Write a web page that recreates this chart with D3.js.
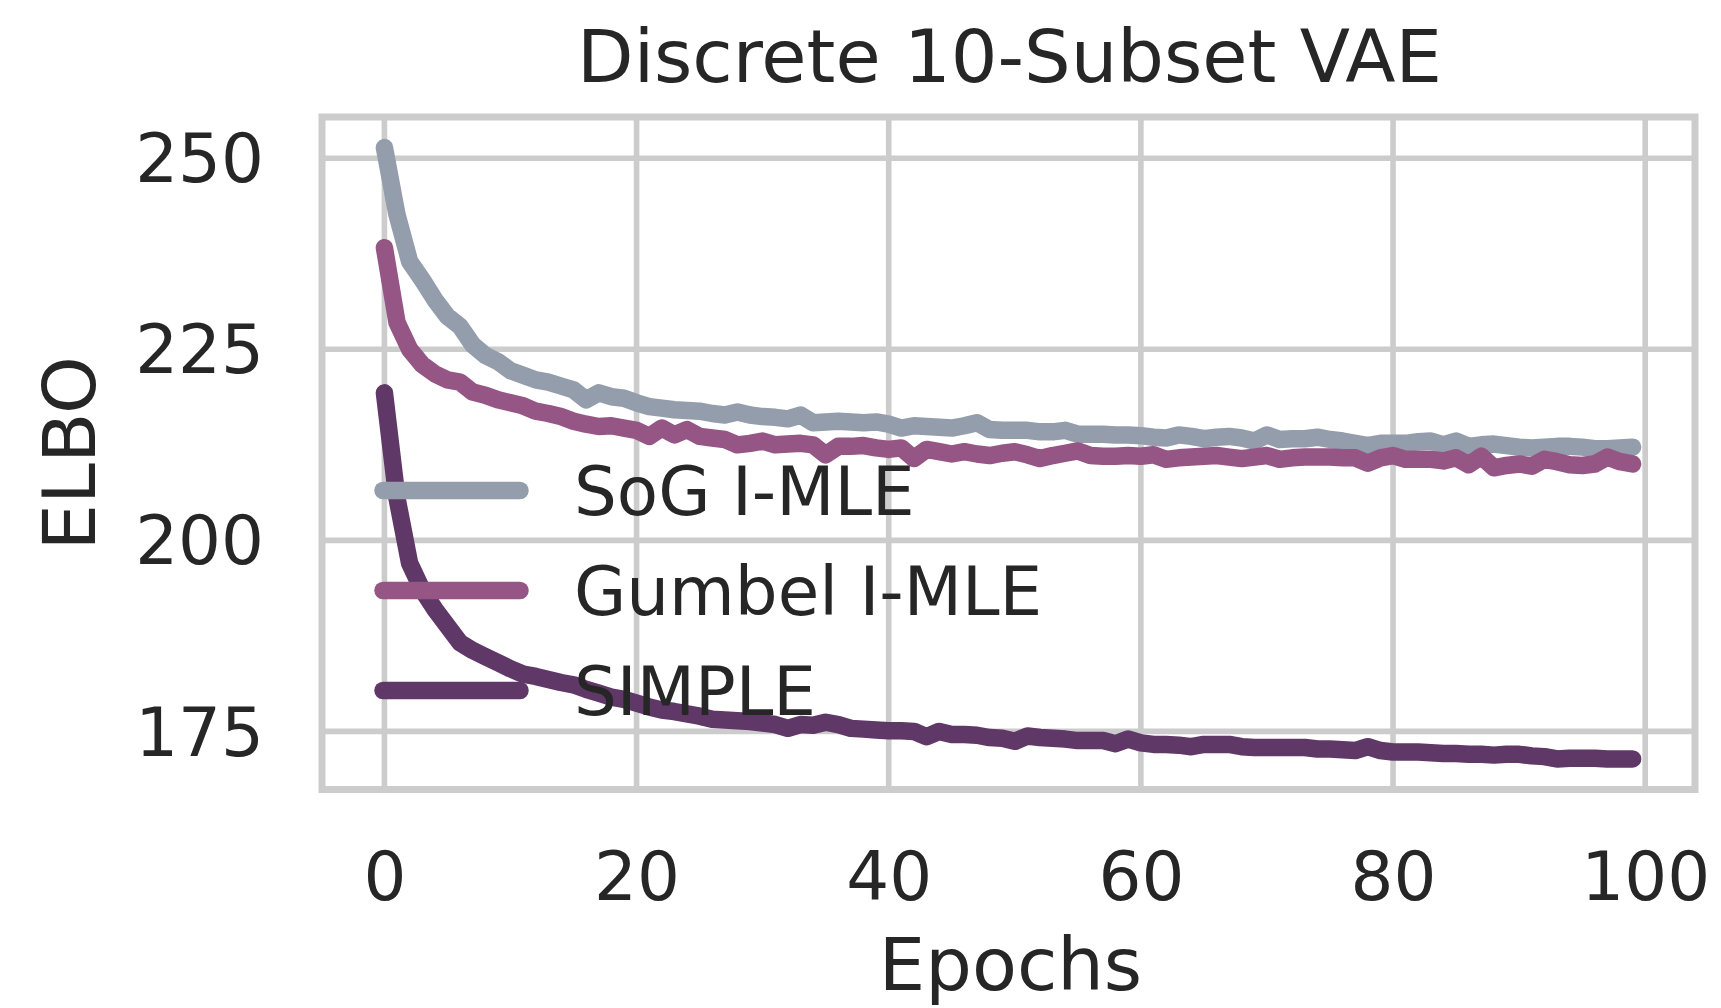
<!DOCTYPE html>
<html>
<head>
<meta charset="utf-8">
<script src="https://cdn.jsdelivr.net/npm/d3@7"></script>
<style>
  html, body { margin: 0; padding: 0; background: #ffffff; }
  svg { display: block; }
  text { font-family: "DejaVu Sans", sans-serif; fill: #262626; }
</style>
</head>
<body>
<svg id="chart" width="1721" height="1008"></svg>
<script>
const title = "Discrete 10-Subset VAE";
const xLabel = "Epochs";
const yLabel = "ELBO";
const seriesNames = ["SoG I-MLE", "Gumbel I-MLE", "SIMPLE"];
const seriesColors = ["#939dab", "#955685", "#5f3868"];
const xTicks = [0, 20, 40, 60, 80, 100];
const yTicks = [175, 200, 225, 250];

const sogValues = [
  251.4, 242.6, 236.5, 234.1, 231.5, 229.3, 228.0, 225.6, 224.2, 223.4,
  222.2, 221.6, 221.0, 220.7, 220.2, 219.7, 218.4, 219.3, 218.8, 218.6,
  218.0, 217.5, 217.3, 217.1, 217.0, 216.9, 216.6, 216.4, 216.8, 216.4,
  216.2, 216.1, 215.9, 216.4, 215.4, 215.5, 215.6, 215.5, 215.4, 215.5,
  215.2, 214.7, 215.0, 214.9, 214.8, 214.7, 215.0, 215.4, 214.5, 214.4,
  214.4, 214.4, 214.2, 214.2, 214.4, 213.9, 213.9, 213.9, 213.8, 213.8,
  213.7, 213.5, 213.4, 213.8, 213.6, 213.3, 213.5, 213.6, 213.4, 213.0,
  213.8, 213.2, 213.3, 213.3, 213.5, 213.2, 213.0, 212.7, 212.4, 212.7,
  212.7, 212.7, 212.9, 213.0, 212.5, 213.0, 212.3, 212.5, 212.6, 212.4,
  212.2, 212.1, 212.2, 212.3, 212.3, 212.2, 212.0, 212.0, 212.1, 212.2
];
const gumbelValues = [
  238.3, 228.5, 225.0, 223.0, 221.8, 221.0, 220.7, 219.4, 219.0, 218.4,
  218.0, 217.6, 216.9, 216.6, 216.2, 215.6, 215.2, 214.9, 215.0, 214.7,
  214.4, 213.6, 214.7, 213.8, 214.5, 213.6, 213.4, 213.2, 212.5, 212.7,
  213.0, 212.5, 212.6, 212.7, 212.5, 211.2, 212.3, 212.3, 212.4, 212.1,
  211.9, 212.1, 210.7, 211.9, 211.6, 211.3, 211.6, 211.3, 211.1, 211.4,
  211.6, 211.2, 210.7, 211.1, 211.4, 211.7, 211.1, 211.0, 211.0, 211.1,
  211.0, 211.2, 210.6, 210.8, 210.9, 211.0, 211.1, 210.9, 210.7, 210.9,
  211.1, 210.6, 210.8, 210.9, 210.9, 210.9, 210.8, 210.8, 210.1, 210.8,
  211.1, 210.6, 210.6, 210.6, 210.4, 210.8, 209.9, 211.0, 209.5, 209.8,
  210.0, 209.7, 210.6, 210.3, 209.9, 209.8, 210.0, 210.9, 210.3, 210.0
];
const simpleValues = [
  219.3, 205.5, 197.0, 193.5, 191.0, 188.8, 186.6, 185.6, 184.8, 184.0,
  183.2, 182.5, 182.2, 181.8, 181.4, 181.1, 180.5, 180.0, 179.5, 179.2,
  178.7, 178.2, 177.8, 177.6, 177.3, 177.0, 176.6, 176.5, 176.4, 176.3,
  176.1, 175.9, 175.4, 175.9, 175.8, 176.2, 175.9, 175.4, 175.3, 175.2,
  175.1, 175.1, 175.0, 174.3, 175.0, 174.6, 174.6, 174.5, 174.2, 174.1,
  173.7, 174.4, 174.2, 174.1, 174.0, 173.8, 173.8, 173.8, 173.4, 174.0,
  173.5, 173.3, 173.3, 173.2, 173.0, 173.3, 173.3, 173.3, 173.0, 172.9,
  172.9, 172.9, 172.9, 172.9, 172.7, 172.7, 172.6, 172.5, 173.0, 172.5,
  172.3, 172.3, 172.3, 172.2, 172.1, 172.1, 172.0, 172.0, 171.9, 172.0,
  172.0, 171.8, 171.7, 171.4, 171.5, 171.5, 171.5, 171.4, 171.4, 171.4
];
const allSeries = [sogValues, gumbelValues, simpleValues];

const svg = d3.select("#chart");
const plotLeft = 322, plotRight = 1695, plotTop = 117, plotBottom = 789.5;

const n = sogValues.length;
const xMargin = (n - 1) * 0.05;
const x = d3.scaleLinear().domain([-xMargin, (n - 1) + xMargin]).range([plotLeft, plotRight]);
const allVals = allSeries.flat();
const yMin = d3.min(allVals), yMax = d3.max(allVals);
const yPad = (yMax - yMin) * 0.05;
const y = d3.scaleLinear().domain([yMin - yPad, yMax + yPad]).range([plotBottom, plotTop]);

const gridColor = "#cccccc";
// gridlines
svg.append("g").selectAll("line").data(xTicks).join("line")
  .attr("x1", d => x(d)).attr("x2", d => x(d))
  .attr("y1", plotTop).attr("y2", plotBottom)
  .attr("stroke", gridColor).attr("stroke-width", 5.6);
svg.append("g").selectAll("line").data(yTicks).join("line")
  .attr("x1", plotLeft).attr("x2", plotRight)
  .attr("y1", d => y(d)).attr("y2", d => y(d))
  .attr("stroke", gridColor).attr("stroke-width", 5.6);

// frame
svg.append("rect")
  .attr("x", plotLeft).attr("y", plotTop)
  .attr("width", plotRight - plotLeft).attr("height", plotBottom - plotTop)
  .attr("fill", "none").attr("stroke", gridColor).attr("stroke-width", 7);

// lines
const line = d3.line().x((d, i) => x(i)).y(d => y(d));
svg.append("g").selectAll("path").data(allSeries).join("path")
  .attr("d", line)
  .attr("fill", "none")
  .attr("stroke", (d, i) => seriesColors[i])
  .attr("stroke-width", 17.5)
  .attr("stroke-linecap", "round")
  .attr("stroke-linejoin", "round");

// axes (tick labels only)
const tickFont = 67.5;
const xAxis = d3.axisBottom(x).tickValues(xTicks).tickSize(0).tickPadding(0);
const gx = svg.append("g").attr("transform", `translate(0,${plotBottom})`).call(xAxis);
gx.select(".domain").remove();
gx.selectAll("text")
  .attr("y", 110.5).attr("dy", null)
  .style("font-size", tickFont + "px")
  .style("font-family", '"DejaVu Sans", sans-serif')
  .attr("fill", "#262626");

const yAxis = d3.axisLeft(y).tickValues(yTicks).tickSize(0).tickPadding(0);
const gy = svg.append("g").attr("transform", `translate(${plotLeft},0)`).call(yAxis);
gy.select(".domain").remove();
gy.selectAll("text")
  .attr("x", -58).attr("dy", "0.35em")
  .style("font-size", tickFont + "px")
  .style("font-family", '"DejaVu Sans", sans-serif')
  .attr("fill", "#262626");

// title and axis labels
const labelFont = 73.5;
svg.append("text")
  .attr("x", (plotLeft + plotRight) / 2 + 1).attr("y", 82)
  .attr("text-anchor", "middle")
  .style("font-size", labelFont + "px")
  .text(title);
svg.append("text")
  .attr("x", (plotLeft + plotRight) / 2 + 2).attr("y", 990)
  .attr("text-anchor", "middle")
  .style("font-size", labelFont + "px")
  .text(xLabel);
svg.append("text")
  .attr("transform", `translate(95,${(plotTop + plotBottom) / 2}) rotate(-90)`)
  .attr("text-anchor", "middle")
  .style("font-size", labelFont + "px")
  .text(yLabel);

// legend
const legendY0 = 490.5, legendStep = 100;
const legend = svg.append("g");
seriesNames.forEach((name, i) => {
  const cy = legendY0 + i * legendStep;
  legend.append("line")
    .attr("x1", 383).attr("x2", 520)
    .attr("y1", cy).attr("y2", cy)
    .attr("stroke", seriesColors[i])
    .attr("stroke-width", 17.5)
    .attr("stroke-linecap", "round");
  legend.append("text")
    .attr("x", 574).attr("y", cy).attr("dy", "0.36em")
    .style("font-size", tickFont + "px")
    .text(name);
});
</script>
</body>
</html>
